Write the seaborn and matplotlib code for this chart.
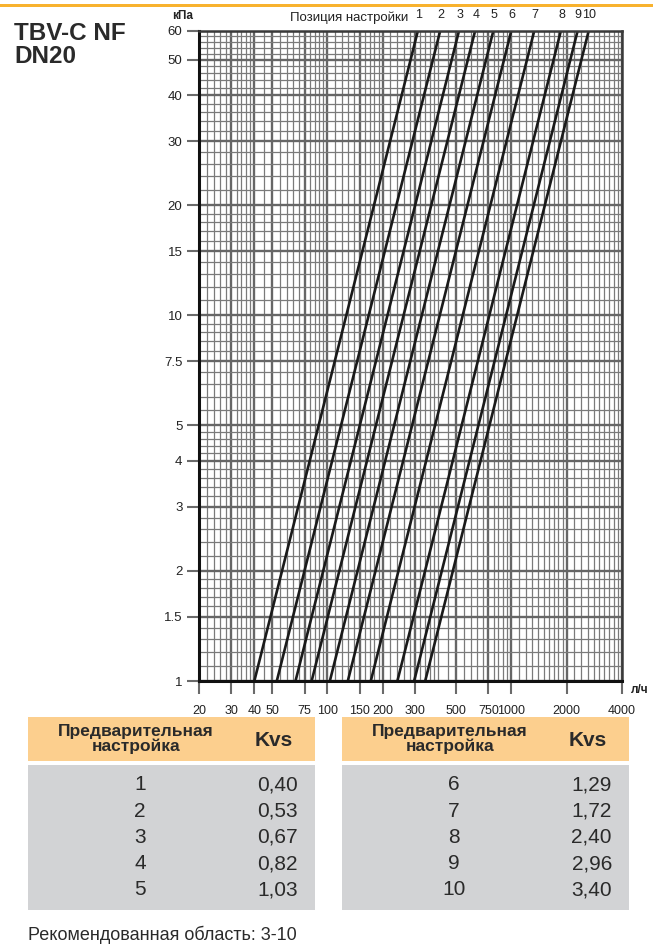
import numpy as np
import pandas as pd
import matplotlib
matplotlib.use("Agg")
import matplotlib.pyplot as plt
import matplotlib.ticker as mticker
from matplotlib.patches import Rectangle
import seaborn as sns

# ---- data ----
settings = [1, 2, 3, 4, 5, 6, 7, 8, 9, 10]
kvs_labels = ["0,40", "0,53", "0,67", "0,82", "1,03", "1,29", "1,72", "2,40", "2,96", "3,40"]
flow_at_1kpa = [40, 53, 67, 82, 103, 129, 172, 240, 296, 340]          # л/ч at bottom edge
flow_at_60kpa = [310, 410, 519, 635, 798, 999, 1332, 1859, 2293, 2634]  # л/ч at top edge
dp_ends = [1, 60]

x_major = [20, 30, 40, 50, 75, 100, 150, 200, 300, 500, 750, 1000, 2000, 4000]
y_major = [1, 1.5, 2, 3, 4, 5, 7.5, 10, 15, 20, 30, 40, 50, 60]
y_major_labels = ["1", "1.5", "2", "3", "4", "5", "7.5", "10", "15", "20", "30", "40", "50", "60"]

rows = []
for s, q1, q60 in zip(settings, flow_at_1kpa, flow_at_60kpa):
    rows.append({"setting": s, "dp": dp_ends[0], "flow": q1})
    rows.append({"setting": s, "dp": dp_ends[1], "flow": q60})
df = pd.DataFrame(rows)

# minor grid positions
x_minor = np.concatenate([np.arange(20, 40, 2), np.arange(40, 100, 5), np.arange(100, 200, 10),
                          np.arange(200, 400, 20), np.arange(400, 1000, 50),
                          np.arange(1000, 2000, 100), np.arange(2000, 4001, 200)])
y_minor = np.concatenate([np.arange(1, 2, 0.1), np.arange(2, 5, 0.2), np.arange(5, 10, 0.5),
                          np.arange(10, 20, 1), np.arange(20, 61, 2)])

sns.set_theme(style="white")
plt.rcParams["font.family"] = ["Liberation Sans", "DejaVu Sans"]

W, H = 653, 944
fig = plt.figure(figsize=(W / 100, H / 100), dpi=100)

def fx(px):
    return px / W

def fy(py):
    return 1 - py / H

# orange strip on top
fig.add_artist(Rectangle((0, fy(7)), 1, 3 / H, transform=fig.transFigure,
                         color="#F8B22E", lw=0))

# ---- chart ----
ax = fig.add_axes([fx(199), fy(681), fx(622) - fx(199), fy(31) - fy(681)])
ax.set_xscale("log")
ax.set_yscale("log")
ax.set_xlim(20, 4000)
ax.set_ylim(1, 60)

ax.xaxis.set_major_locator(mticker.FixedLocator(x_major))
ax.xaxis.set_major_formatter(mticker.FixedFormatter([str(v) for v in x_major]))
ax.xaxis.set_minor_locator(mticker.FixedLocator(x_minor))
ax.xaxis.set_minor_formatter(mticker.NullFormatter())
ax.yaxis.set_major_locator(mticker.FixedLocator(y_major))
ax.yaxis.set_major_formatter(mticker.FixedFormatter(y_major_labels))
ax.yaxis.set_minor_locator(mticker.FixedLocator(y_minor))
ax.yaxis.set_minor_formatter(mticker.NullFormatter())

ax.grid(which="minor", color="#7a7a7a", lw=0.9)
ax.grid(which="major", color="#666666", lw=1.7)
ax.tick_params(which="major", direction="out", length=9, width=1.5, color="#6a6a6a",
               labelsize=9.5, labelcolor="#222222", left=True, bottom=True)
ax.tick_params(axis="x", which="major", pad=8, labelsize=9)
ax.tick_params(axis="y", which="major", pad=3)
ax.tick_params(which="minor", length=0)

sns.lineplot(data=df, x="flow", y="dp", units="setting", estimator=None,
             color="#1a1a1a", lw=1.9, ax=ax, legend=False)
ax.set_xlabel("")
ax.set_ylabel("")

for sp in ax.spines.values():
    sp.set_color("#3a3a3a")
    sp.set_linewidth(1.8)
ax.spines["left"].set_color("#111111")
ax.spines["bottom"].set_color("#111111")
ax.spines["left"].set_linewidth(2.2)
ax.spines["bottom"].set_linewidth(2.2)

# position labels at top of each line
for s, q60 in zip(settings, flow_at_60kpa):
    ax.text(q60 * 1.01, 64, str(s), ha="center", va="bottom", fontsize=9, color="#222222")
fig.text(fx(408), fy(18), "Позиция настройки", ha="right", va="center",
         fontsize=9.5, color="#222222")
fig.text(fx(183), fy(16), "кПа", ha="center", va="center", fontsize=8.5,
         fontweight="bold", color="#222222")
fig.text(fx(640), fy(690), "л/ч", ha="center", va="center", fontsize=8.5,
         fontweight="bold", color="#222222")

# title
fig.text(fx(14), fy(45), "TBV-C NF\nDN20", ha="left", va="center", fontsize=17.5,
         fontweight="bold", color="#2a2a2a", linespacing=1.05)

# ---- tables ----
def draw_table(x0, x1, idx):
    fig.add_artist(Rectangle((fx(x0), fy(761)), fx(x1) - fx(x0), (761 - 717) / H,
                             transform=fig.transFigure, color="#FCCF8E", lw=0))
    fig.add_artist(Rectangle((fx(x0), fy(910)), fx(x1) - fx(x0), (910 - 765) / H,
                             transform=fig.transFigure, color="#D2D3D5", lw=0))
    fig.text(fx(x0 + 108), fy(739), "Предварительная\nнастройка", ha="center", va="center",
             fontsize=12.5, fontweight="bold", color="#2a2a2a", linespacing=0.95)
    fig.text(fx(x0 + 246), fy(741), "Kvs", ha="center", va="center",
             fontsize=15, fontweight="bold", color="#2a2a2a")
    for k, i in enumerate(idx):
        yy = 785 + k * 26.2
        fig.text(fx(x0 + 112), fy(yy), str(settings[i]), ha="center", va="center",
                 fontsize=15, color="#2a2a2a")
        fig.text(fx(x0 + 270), fy(yy), kvs_labels[i], ha="right", va="center",
                 fontsize=15, color="#2a2a2a")

draw_table(28, 315, range(0, 5))
draw_table(342, 629, range(5, 10))

fig.text(fx(28), fy(935), "Рекомендованная область: 3-10", ha="left", va="center",
         fontsize=13, color="#2a2a2a")

fig.savefig("out.png", dpi=100)
